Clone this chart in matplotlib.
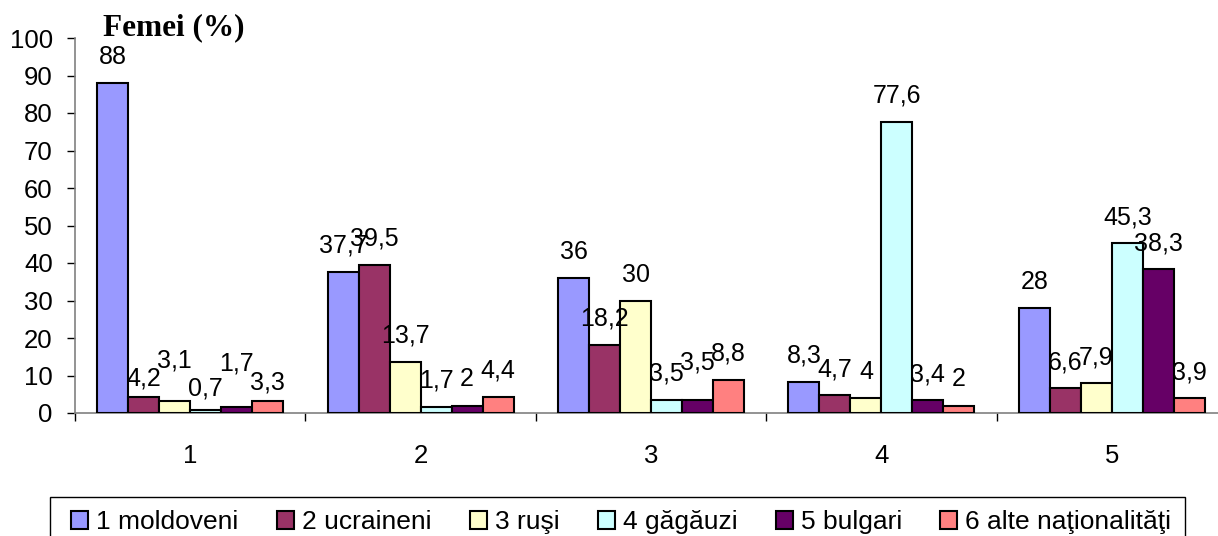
import numpy as np
import matplotlib
matplotlib.use('Agg')
import matplotlib.pyplot as plt
import matplotlib.ticker as ticker
from matplotlib.patches import Rectangle

plt.rcParams['font.family'] = ['Liberation Sans', 'DejaVu Sans']

groups = ['1', '2', '3', '4', '5']
names = ['1 moldoveni', '2 ucraineni', '3 ruşi', '4 găgăuzi', '5 bulgari', '6 alte naţionalităţi']
colors = ['#9999FF', '#993366', '#FFFFCC', '#CCFFFF', '#660066', '#FF8080']

moldoveni = [88, 37.7, 36, 8.3, 28]
ucraineni = [4.2, 39.5, 18.2, 4.7, 6.6]
rusi = [3.1, 13.7, 30, 4, 7.9]
gagauzi = [0.7, 1.7, 3.5, 77.6, 45.3]
bulgari = [1.7, 2, 3.5, 3.4, 38.3]
alte = [3.3, 4.4, 8.8, 2, 3.9]
series = [moldoveni, ucraineni, rusi, gagauzi, bulgari, alte]

# extra vertical shift (pixels) for labels that Excel moved to avoid overlap
# key = (series, group)
nudge = {(1, 0): -7, (2, 0): 15, (3, 0): -4, (4, 0): 17, (5, 0): -8, (4, 2): 11}

W, H = 1218, 536
fig = plt.figure(figsize=(W/100, H/100), dpi=100)
ax = fig.add_axes([75/W, 123/H, 1152/W, 375/H])

x = np.arange(len(groups))
w = 0.1345
for j in range(len(series)):
    pos = x + (j - 2.5) * w
    ax.bar(pos, series[j], width=w, color=colors[j], edgecolor='black', linewidth=1.5, label=names[j], zorder=3)
    for i, v in enumerate(series[j]):
        txt = ('%g' % v).replace('.', ',')
        dy = 26 + nudge.get((j, i), 0)
        ax.annotate(txt, (pos[i], v), xytext=(0, dy), textcoords='offset pixels',
                    ha='center', va='center', fontsize=18, zorder=4)

ax.set_xlim(-0.5, 4.5)
ax.set_ylim(0, 100)
ax.yaxis.set_major_locator(ticker.MultipleLocator(10))
ax.xaxis.set_major_locator(ticker.FixedLocator(x))
ax.xaxis.set_major_formatter(ticker.FixedFormatter(groups))
ax.xaxis.set_minor_locator(ticker.FixedLocator(np.arange(-0.5, 5, 1)))
ax.tick_params(axis='x', which='major', length=0, pad=22, labelsize=18.5)
ax.tick_params(axis='x', which='minor', length=6, width=1, color='black', direction='out')
ax.tick_params(axis='y', which='major', length=6, width=1, color='black', pad=10, labelsize=18.5)

for s in ['top', 'right']:
    ax.spines[s].set_visible(False)
for s in ['left', 'bottom']:
    ax.spines[s].set_color('#808080')
    ax.spines[s].set_linewidth(1.2)

fig.text(174/W, 1 - 28/H, 'Femei (%)', family='Liberation Serif', fontweight='bold',
         fontsize=22.5, ha='center', va='center')

# legend box (runs off the bottom edge like in the original)
fig.patches.append(Rectangle((50/W, -10/H), 1135/W, (H - 497 + 10)/H, transform=fig.transFigure,
                             facecolor='white', edgecolor='black', linewidth=1, zorder=1))
leg = fig.legend(loc='upper left', bbox_to_anchor=(66/W, 1 - 505/H), ncol=6,
                 fontsize=19, frameon=False, handlelength=0.65, handleheight=0.65,
                 handletextpad=0.3, columnspacing=1.45, borderpad=0.2, borderaxespad=0)
leg.set_zorder(2)

plt.savefig('out.png', dpi=100)
